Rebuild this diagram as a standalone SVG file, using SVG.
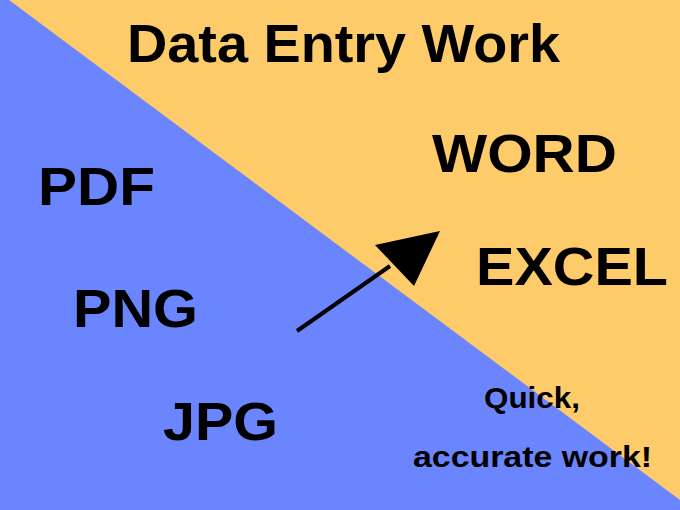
<svg xmlns="http://www.w3.org/2000/svg" width="680" height="510" viewBox="0 0 680 510">
<style>text{font-family:"Liberation Sans",Arial,sans-serif;font-weight:bold;fill:#000}</style>
<rect width="680" height="510" fill="#6b85fe"/>
<polygon points="9,0 680,0 680,500" fill="#fecb6b"/>
<g id="texts">
<text x="127" y="62" font-size="54" textLength="433" lengthAdjust="spacingAndGlyphs">Data Entry Work</text>
<text x="432" y="172" font-size="54" textLength="185" lengthAdjust="spacingAndGlyphs">WORD</text>
<text x="38" y="205" font-size="54" textLength="117" lengthAdjust="spacingAndGlyphs">PDF</text>
<text x="476" y="285" font-size="54" textLength="192" lengthAdjust="spacingAndGlyphs">EXCEL</text>
<text x="73" y="327" font-size="54" textLength="125" lengthAdjust="spacingAndGlyphs">PNG</text>
<text x="163" y="440" font-size="54" textLength="115" lengthAdjust="spacingAndGlyphs">JPG</text>
<text x="484" y="408" font-size="30" textLength="96" lengthAdjust="spacingAndGlyphs">Quick,</text>
<text x="413" y="467" font-size="30" textLength="239" lengthAdjust="spacingAndGlyphs">accurate work!</text>
</g>
<g id="connectors">
<line x1="297" y1="331" x2="390" y2="266" stroke="#000" stroke-width="4"/>
<polygon points="375,245 440,231 414,286" fill="#000"/>
</g>
</svg>
